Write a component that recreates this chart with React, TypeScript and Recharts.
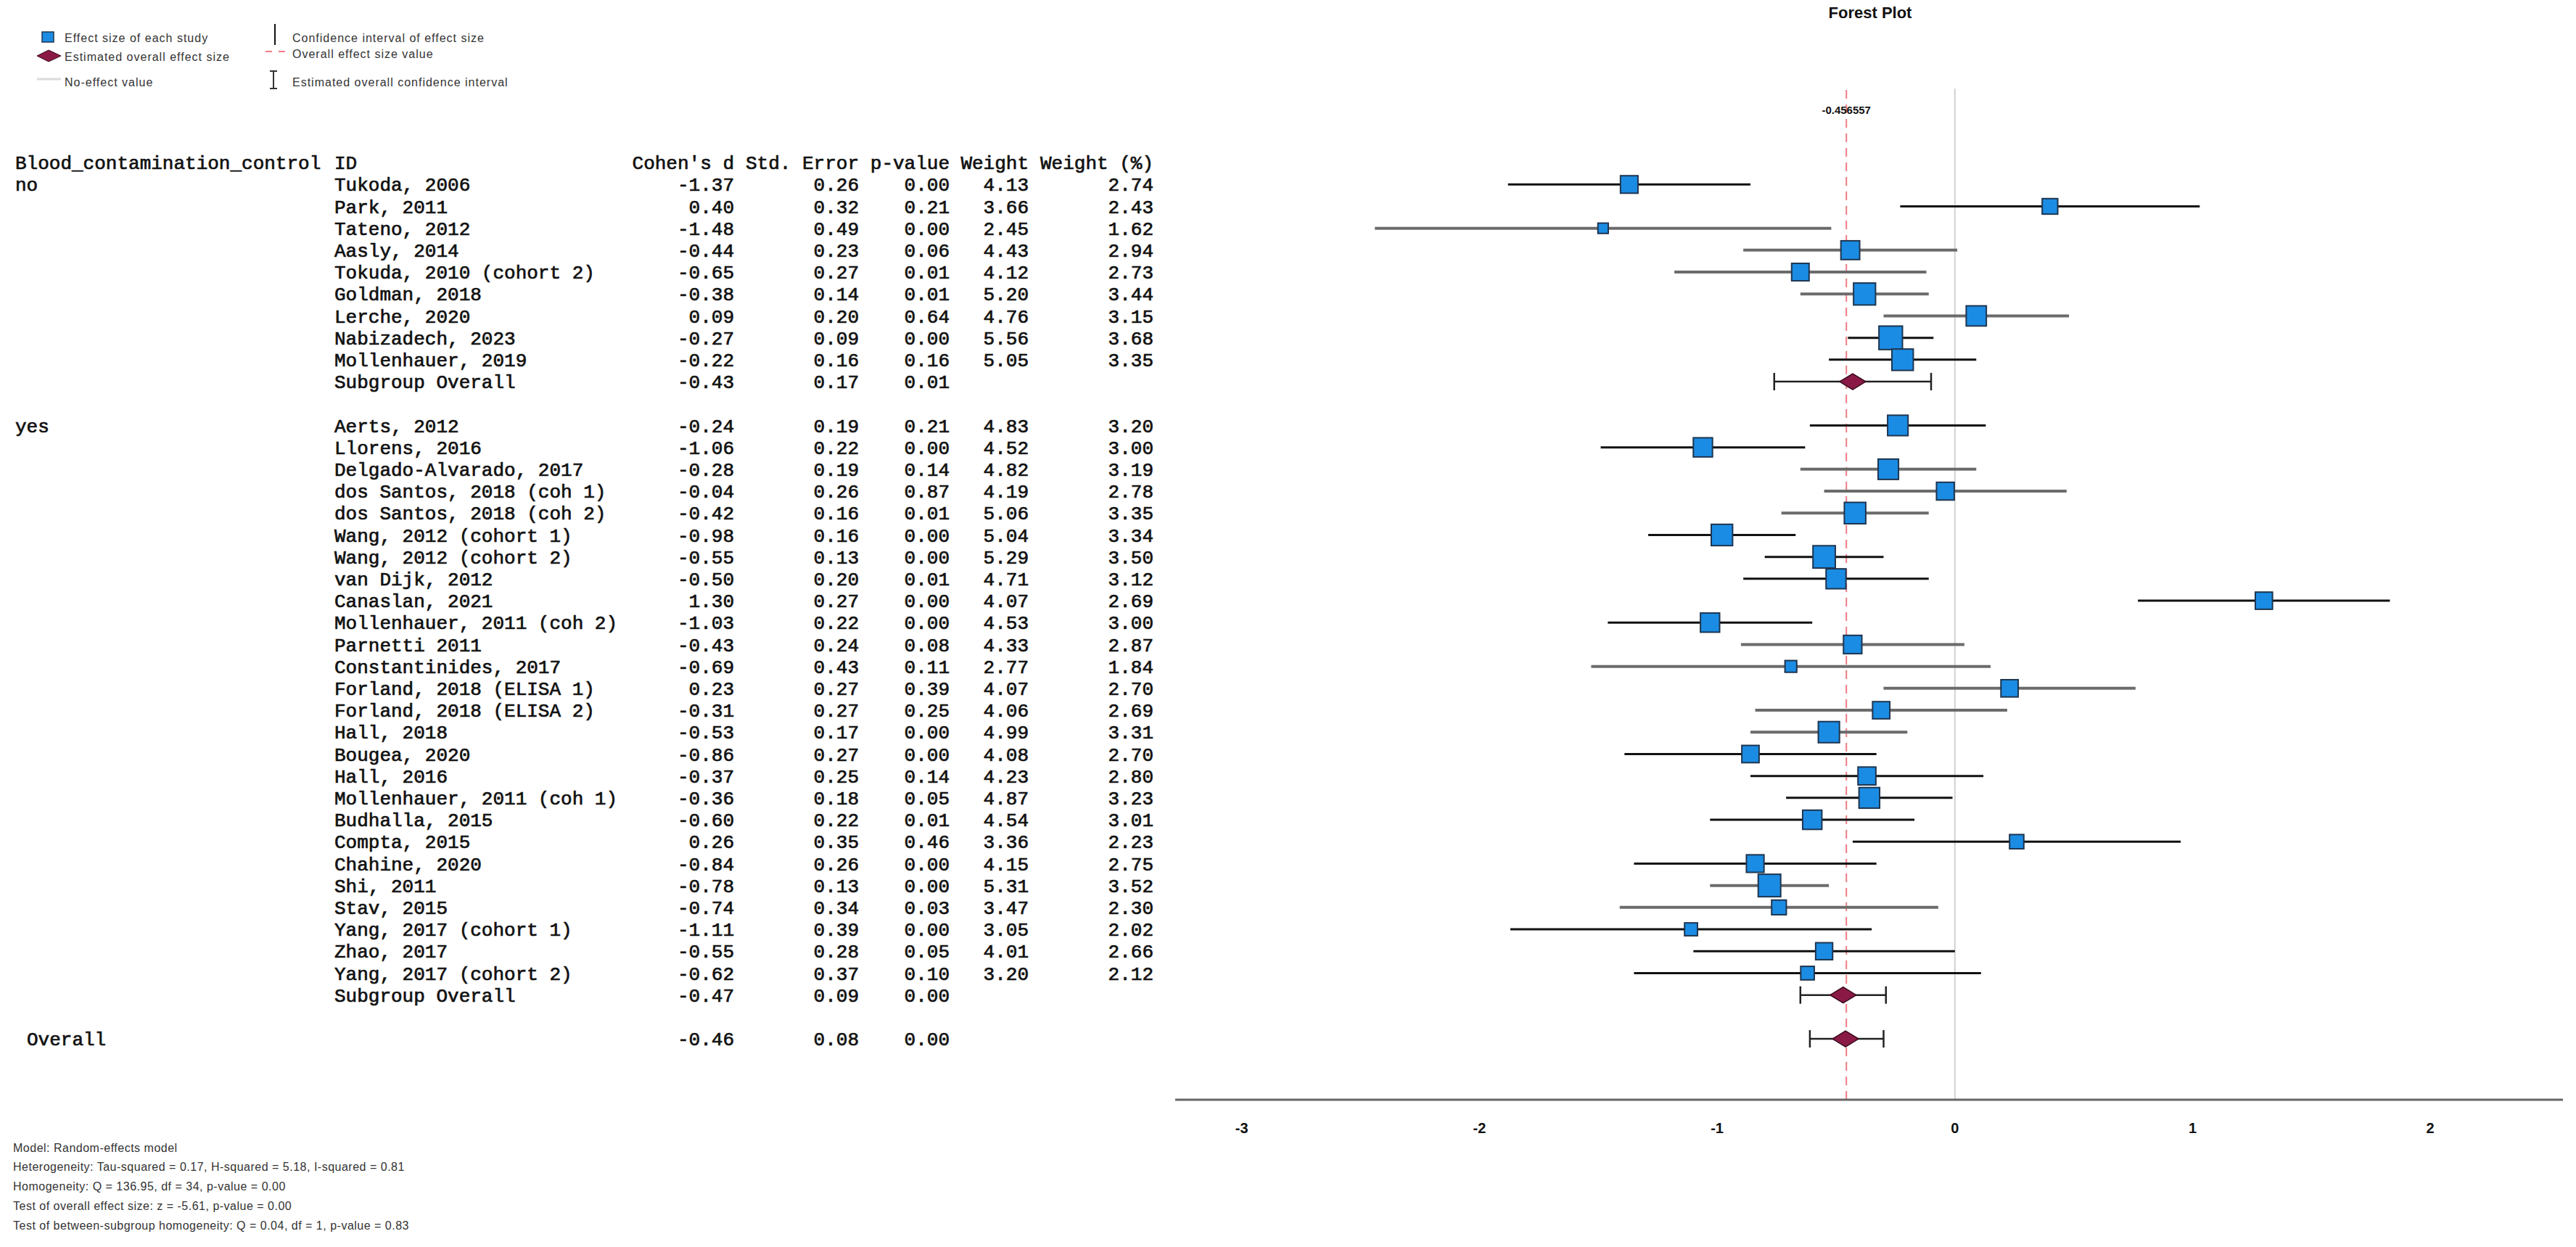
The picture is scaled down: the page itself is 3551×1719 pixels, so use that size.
import { ComposedChart, Scatter, XAxis, YAxis, ErrorBar, ReferenceLine } from 'recharts'

// subgroup "no" (no blood contamination control)
const noIds = ['Tukoda, 2006', 'Park, 2011', 'Tateno, 2012', 'Aasly, 2014', 'Tokuda, 2010 (cohort 2)', 'Goldman, 2018', 'Lerche, 2020', 'Nabizadech, 2023', 'Mollenhauer, 2019']
const noD = [-1.37, 0.4, -1.48, -0.44, -0.65, -0.38, 0.09, -0.27, -0.22]
const noSE = [0.26, 0.32, 0.49, 0.23, 0.27, 0.14, 0.2, 0.09, 0.16]
const noP = [0.0, 0.21, 0.0, 0.06, 0.01, 0.01, 0.64, 0.0, 0.16]
const noW = [4.13, 3.66, 2.45, 4.43, 4.12, 5.2, 4.76, 5.56, 5.05]
const noWPct = [2.74, 2.43, 1.62, 2.94, 2.73, 3.44, 3.15, 3.68, 3.35]
const noLow = [-1.88, -0.23, -2.44, -0.89, -1.18, -0.65, -0.3, -0.45, -0.53]
const noHigh = [-0.86, 1.03, -0.52, 0.01, -0.12, -0.11, 0.48, -0.09, 0.09]

// subgroup "yes"
const yesIds = ['Aerts, 2012', 'Llorens, 2016', 'Delgado-Alvarado, 2017', 'dos Santos, 2018 (coh 1)', 'dos Santos, 2018 (coh 2)', 'Wang, 2012 (cohort 1)', 'Wang, 2012 (cohort 2)', 'van Dijk, 2012', 'Canaslan, 2021', 'Mollenhauer, 2011 (coh 2)', 'Parnetti 2011', 'Constantinides, 2017', 'Forland, 2018 (ELISA 1)', 'Forland, 2018 (ELISA 2)', 'Hall, 2018', 'Bougea, 2020', 'Hall, 2016', 'Mollenhauer, 2011 (coh 1)', 'Budhalla, 2015', 'Compta, 2015', 'Chahine, 2020', 'Shi, 2011', 'Stav, 2015', 'Yang, 2017 (cohort 1)', 'Zhao, 2017', 'Yang, 2017 (cohort 2)']
const yesD = [-0.24, -1.06, -0.28, -0.04, -0.42, -0.98, -0.55, -0.5, 1.3, -1.03, -0.43, -0.69, 0.23, -0.31, -0.53, -0.86, -0.37, -0.36, -0.6, 0.26, -0.84, -0.78, -0.74, -1.11, -0.55, -0.62]
const yesSE = [0.19, 0.22, 0.19, 0.26, 0.16, 0.16, 0.13, 0.2, 0.27, 0.22, 0.24, 0.43, 0.27, 0.27, 0.17, 0.27, 0.25, 0.18, 0.22, 0.35, 0.26, 0.13, 0.34, 0.39, 0.28, 0.37]
const yesP = [0.21, 0.0, 0.14, 0.87, 0.01, 0.0, 0.0, 0.01, 0.0, 0.0, 0.08, 0.11, 0.39, 0.25, 0.0, 0.0, 0.14, 0.05, 0.01, 0.46, 0.0, 0.0, 0.03, 0.0, 0.05, 0.1]
const yesW = [4.83, 4.52, 4.82, 4.19, 5.06, 5.04, 5.29, 4.71, 4.07, 4.53, 4.33, 2.77, 4.07, 4.06, 4.99, 4.08, 4.23, 4.87, 4.54, 3.36, 4.15, 5.31, 3.47, 3.05, 4.01, 3.2]
const yesWPct = [3.2, 3.0, 3.19, 2.78, 3.35, 3.34, 3.5, 3.12, 2.69, 3.0, 2.87, 1.84, 2.7, 2.69, 3.31, 2.7, 2.8, 3.23, 3.01, 2.23, 2.75, 3.52, 2.3, 2.02, 2.66, 2.12]
const yesLow = [-0.61, -1.49, -0.65, -0.55, -0.73, -1.29, -0.8, -0.89, 0.77, -1.46, -0.9, -1.53, -0.3, -0.84, -0.86, -1.39, -0.86, -0.71, -1.03, -0.43, -1.35, -1.03, -1.41, -1.87, -1.1, -1.35]
const yesHigh = [0.13, -0.63, 0.09, 0.47, -0.11, -0.67, -0.3, -0.11, 1.83, -0.6, 0.04, 0.15, 0.76, 0.22, -0.2, -0.33, 0.12, -0.01, -0.17, 0.95, -0.33, -0.53, -0.07, -0.35, 0.0, 0.11]

// subgroup overall rows (no, yes) and the overall row
const subgroupD = [-0.43, -0.47]
const subgroupSE = [0.17, 0.09]
const subgroupP = [0.01, 0.0]
const subgroupLow = [-0.76, -0.65]
const subgroupHigh = [-0.1, -0.29]
const overallD = -0.46
const overallSE = 0.08
const overallP = 0.0
const overallLow = -0.61
const overallHigh = -0.3
const overallEffect = -0.456557

const xTicks = [-3, -2, -1, 0, 1, 2]

const footerLines = [
  'Model: Random-effects model',
  'Heterogeneity: Tau-squared = 0.17, H-squared = 5.18, I-squared = 0.81',
  'Homogeneity: Q = 136.95, df = 34, p-value = 0.00',
  'Test of overall effect size: z = -5.61, p-value = 0.00',
  'Test of between-subgroup homogeneity: Q = 0.04, df = 1, p-value = 0.83',
]

// rows whose CI line came out grey in the original raster
const greyCiIds = new Set(['Tateno, 2012', 'Aasly, 2014', 'Tokuda, 2010 (cohort 2)', 'Goldman, 2018', 'Lerche, 2020', 'Delgado-Alvarado, 2017', 'dos Santos, 2018 (coh 1)', 'dos Santos, 2018 (coh 2)', 'Parnetti 2011', 'Constantinides, 2017', 'Forland, 2018 (ELISA 1)', 'Forland, 2018 (ELISA 2)', 'Hall, 2018', 'Shi, 2011', 'Stav, 2015'])

const MONO = "'Liberation Mono', 'Courier New', monospace"
const SANS = "'Liberation Sans', Arial, sans-serif"
const COL_END = [1012, 1184, 1309, 1418, 1590]

const f2 = (v: number) => v.toFixed(2)

type TableRow = { group?: string; groupX?: number; id?: string; cols: string[] }
const tableRows = new Map<number, TableRow>()
tableRows.set(0, { group: 'Blood_contamination_control', groupX: 21, id: 'ID', cols: ["Cohen's d", 'Std. Error', 'p-value', 'Weight', 'Weight (%)'] })

const studies: any[] = []
const addStudies = (start: number, group: string, ids: string[], d: number[], se: number[], p: number[], w: number[], wp: number[], lo: number[], hi: number[]) => {
  ids.forEach((id, i) => {
    const row = start + i
    tableRows.set(row, { group: i === 0 ? group : undefined, groupX: 21, id, cols: [f2(d[i]), f2(se[i]), f2(p[i]), f2(w[i]), f2(wp[i])] })
    studies.push({ id, row, d: d[i], wpct: wp[i], err: [d[i] - lo[i], hi[i] - d[i]] })
  })
}
addStudies(1, 'no', noIds, noD, noSE, noP, noW, noWPct, noLow, noHigh)
addStudies(12, 'yes', yesIds, yesD, yesSE, yesP, yesW, yesWPct, yesLow, yesHigh)

const summaries: any[] = []
;[10, 38].forEach((row, k) => {
  tableRows.set(row, { id: 'Subgroup Overall', cols: [f2(subgroupD[k]), f2(subgroupSE[k]), f2(subgroupP[k]), '', ''] })
  summaries.push({ row, d: subgroupD[k], err: [subgroupD[k] - subgroupLow[k], subgroupHigh[k] - subgroupD[k]] })
})
tableRows.set(40, { group: 'Overall', groupX: 37, cols: [f2(overallD), f2(overallSE), f2(overallP), '', ''] })
summaries.push({ row: 40, d: overallD, err: [overallD - overallLow, overallHigh - overallD] })

const blackStudies = studies.filter((s) => !greyCiIds.has(s.id))
const greyStudies = studies.filter((s) => greyCiIds.has(s.id))

function TableTick(props: any) {
  const r = tableRows.get(props.payload.value)
  if (!r) return null
  const y = props.y
  return (
    <g fontFamily={MONO} fontSize={26} fill="#111" stroke="#111" strokeWidth={0.7}>
      {r.group && <text x={r.groupX} y={y} dy="0.35em">{r.group}</text>}
      {r.id && <text x={461} y={y} dy="0.35em">{r.id}</text>}
      {r.cols.map((c, k) => c ? <text key={k} x={COL_END[k]} y={y} dy="0.35em" textAnchor="end">{c}</text> : null)}
    </g>
  )
}

function StudySquare(props: any) {
  const s = props.payload.wpct * 8.8
  return <rect x={props.cx - s / 2} y={props.cy - s / 2} width={s} height={s} fill="#1b8ce3" stroke="#1e3550" strokeWidth={2} />
}

function Diamond(props: any) {
  const { cx, cy } = props
  return <polygon points={`${cx - 18},${cy} ${cx},${cy - 11} ${cx + 18},${cy} ${cx},${cy + 11}`} fill="#8a1a45" stroke="#3a0a1e" strokeWidth={1.5} />
}

export default function App() {
  const txt = { fontFamily: SANS, fontSize: 16, letterSpacing: 1, fill: '#333' }
  return (
    <div style={{ position: 'absolute', left: 0, top: 0, width: 3551, height: 1719, background: '#fff' }}>
      <ComposedChart width={3551} height={1719} margin={{ top: 122, right: 18, bottom: 143, left: 0 }}>
        <XAxis
          type="number"
          dataKey="d"
          domain={[-3.28, 2.558]}
          ticks={xTicks}
          height={60}
          tickLine={false}
          tickMargin={26}
          axisLine={{ stroke: '#666', strokeWidth: 3 }}
          tick={{ fontSize: 20, fontWeight: 'bold', fill: '#111', fontFamily: SANS }}
        />
        <YAxis
          type="number"
          dataKey="row"
          domain={[-3.38, 42.78]}
          reversed
          width={1620}
          ticks={Array.from(tableRows.keys())}
          interval={0}
          axisLine={false}
          tickLine={false}
          tick={(p: any) => <TableTick {...p} />}
        />
        <ReferenceLine x={0} stroke="#d2d2d2" strokeWidth={2} />
        <ReferenceLine
          x={overallEffect}
          stroke="#f07c84"
          strokeWidth={2}
          strokeDasharray="12 8"
          label={{ value: String(overallEffect), position: 'insideTop', offset: 24, fontSize: 15, fontWeight: 'bold', fill: '#111', fontFamily: SANS }}
        />
        <Scatter data={greyStudies} isAnimationActive={false} shape={(p: any) => <StudySquare {...p} />}>
          <ErrorBar dataKey="err" direction="x" width={0} stroke="#6b6b6b" strokeWidth={4} />
        </Scatter>
        <Scatter data={blackStudies} isAnimationActive={false} shape={(p: any) => <StudySquare {...p} />}>
          <ErrorBar dataKey="err" direction="x" width={0} stroke="#111" strokeWidth={3} />
        </Scatter>
        <Scatter data={summaries} isAnimationActive={false} shape={(p: any) => <Diamond {...p} />}>
          <ErrorBar dataKey="err" direction="x" width={12} stroke="#222" strokeWidth={2.5} />
        </Scatter>
      </ComposedChart>

      <svg width={3551} height={1719} style={{ position: 'absolute', left: 0, top: 0, pointerEvents: 'none' }}>
        <text x={2578} y={17} dy="0.35em" textAnchor="middle" fontFamily={SANS} fontSize={22} fontWeight="bold" fill="#111">Forest Plot</text>

        <rect x={58} y={44} width={16} height={14} fill="#1b8ce3" stroke="#1e3550" strokeWidth={1.5} />
        <text x={89} y={52} dy="0.35em" {...txt}>Effect size of each study</text>
        <polygon points="51,77 67,69 84,77 67,85" fill="#8a1a45" stroke="#3a0a1e" strokeWidth={1} />
        <text x={89} y={78} dy="0.35em" {...txt}>Estimated overall effect size</text>
        <line x1={51} x2={84} y1={109} y2={109} stroke="#dadada" strokeWidth={3} />
        <text x={89} y={113} dy="0.35em" {...txt}>No-effect value</text>

        <line x1={379} x2={379} y1={33} y2={62} stroke="#111" strokeWidth={2} />
        <text x={403} y={52} dy="0.35em" {...txt}>Confidence interval of effect size</text>
        <line x1={366} x2={395} y1={71} y2={71} stroke="#f07c84" strokeWidth={2} strokeDasharray="9 9" />
        <text x={403} y={74} dy="0.35em" {...txt}>Overall effect size value</text>
        <line x1={377} x2={377} y1={98} y2={122} stroke="#333" strokeWidth={2} />
        <line x1={372} x2={382} y1={98} y2={98} stroke="#333" strokeWidth={2} />
        <line x1={372} x2={382} y1={122} y2={122} stroke="#333" strokeWidth={2} />
        <text x={403} y={113} dy="0.35em" {...txt}>Estimated overall confidence interval</text>

        {footerLines.map((l, i) => (
          <text key={i} x={18} y={1582 + i * 26.8} dy="0.35em" {...txt} letterSpacing={0.5}>{l}</text>
        ))}
      </svg>
    </div>
  )
}
